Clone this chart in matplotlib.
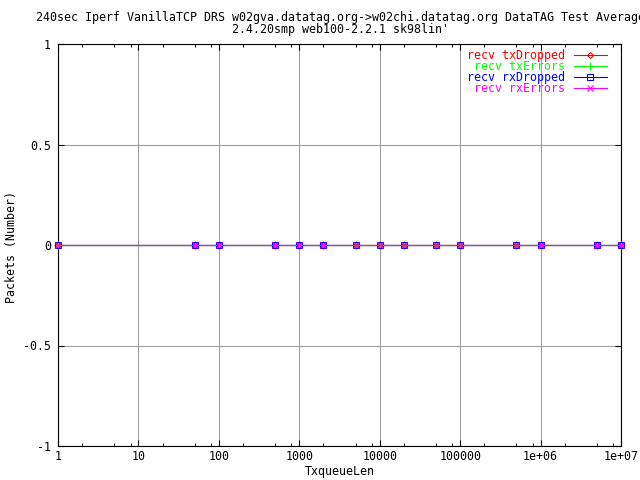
import numpy as np
import matplotlib
matplotlib.use("Agg")
import matplotlib.pyplot as plt
from matplotlib.ticker import FixedLocator, LogLocator, NullFormatter, FuncFormatter

# data
txqueuelen = [1, 50, 100, 500, 1000, 2000, 5000, 10000, 20000, 50000,
              100000, 500000, 1000000, 5000000, 10000000]
tx_dropped = [0] * len(txqueuelen)
tx_errors = [0] * len(txqueuelen)
rx_dropped = [0] * len(txqueuelen)
rx_errors = [0] * len(txqueuelen)

series_labels = ["recv txDropped", " recv txErrors", "recv rxDropped", " recv rxErrors"]
xtick_vals = [1, 10, 100, 1000, 10000, 100000, 1e6, 1e7]
xtick_text = ["1", "10", "100", "1000", "10000", "100000", "1e+06", "1e+07"]
ytick_vals = [-1, -0.5, 0, 0.5, 1]
ytick_text = ["-1", "-0.5", "0", "0.5", "1"]

title_lines = ["240sec Iperf VanillaTCP DRS w02gva.datatag.org->w02chi.datatag.org DataTAG Test Average",
               "2.4.20smp web100-2.2.1 sk98lin'"]

plt.rcParams['font.family'] = ['DejaVu Sans Mono']
plt.rcParams['font.size'] = 8.4

W, H = 640, 480
fig = plt.figure(figsize=(6.4, 4.8), dpi=100)
ax = fig.add_axes([58 / W, (H - 446) / H, (621 - 58) / W, (446 - 44) / H])

styles = [("#ff0000", "D", 3), ("#00ff00", "+", 6), ("#0000ff", "s", 4.5), ("#ff00ff", "x", 5)]
for vals, lab, (col, mk, ms) in zip([tx_dropped, tx_errors, rx_dropped, rx_errors], series_labels, styles):
    ax.plot(txqueuelen, vals, color=col, lw=0.8, marker=mk, ms=ms, mew=0.8,
            mfc="none", label=lab, clip_on=False, zorder=3)

ax.set_xscale("log")
ax.set_xlim(1, 1e7)
ax.set_ylim(-1, 1)

ax.xaxis.set_major_locator(FixedLocator(xtick_vals))
ax.xaxis.set_major_formatter(FuncFormatter(lambda v, p: xtick_text[xtick_vals.index(v)] if v in xtick_vals else ""))
ax.xaxis.set_minor_locator(LogLocator(base=10, subs=[2, 5, 8]))
ax.xaxis.set_minor_formatter(NullFormatter())
ax.yaxis.set_major_locator(FixedLocator(ytick_vals))
ax.set_yticklabels(ytick_text)

ax.tick_params(which="both", direction="in", top=True, right=True, color="black", width=0.8)
ax.tick_params(which="major", length=4, pad=5)
ax.tick_params(axis="x", which="major", pad=3)
ax.tick_params(which="minor", length=2.5)

ax.grid(True, which="major", color="#a0a0a0", lw=0.8)
for s in ax.spines.values():
    s.set_linewidth(0.8)
    s.set_color("black")

fig.text(340 / W, 1 - 472 / H, "TxqueueLen", ha="center", va="center")
fig.text(12 / W, 1 - 247 / H, "Packets (Number)", ha="center", va="center", rotation=90)

fig.text(340 / W, 1 - 17 / H, title_lines[0], ha="center", va="center")
fig.text(340 / W, 1 - 30 / H, title_lines[1], ha="center", va="center")

leg = ax.legend(loc="upper right", bbox_to_anchor=(1 - 9 / 563, 1),
                markerfirst=False, frameon=False, labelcolor="linecolor",
                handlelength=2.9, handletextpad=0.7, labelspacing=-0.17,
                borderaxespad=0.1, borderpad=0.3)

fig.savefig("out.png", dpi=100)
